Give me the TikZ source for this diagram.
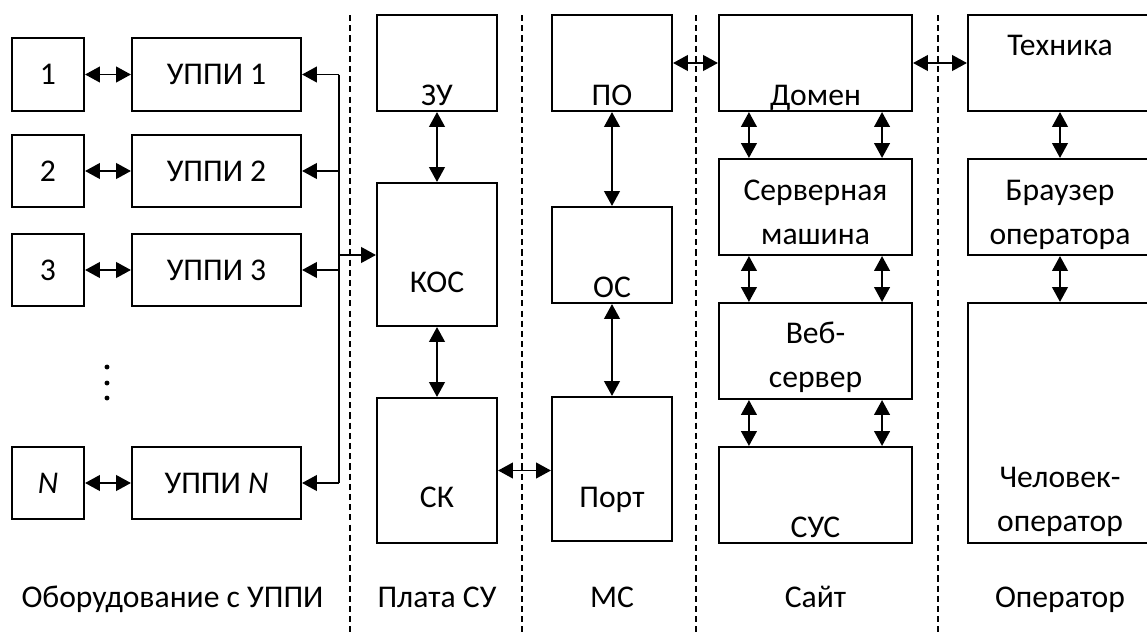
\documentclass[tikz,border=0pt]{standalone}
\usepackage{fontspec}
\setmainfont{Carlito}
\usetikzlibrary{arrows.meta,calc}

\tikzset{
  blk/.style={draw, line width=1.2pt, inner sep=0pt},
  sz/.style 2 args={minimum width=#1*0.02cm, minimum height=#2*0.02cm},
  lbl/.style={anchor=base, inner sep=0pt, align=center},
  lnk/.style={line width=1pt, <->},
  sep/.style={line width=0.9pt, dash pattern=on 3.5pt off 2.3pt},
}

\begin{document}
\begin{tikzpicture}[x=0.02cm, y=-0.02cm, >={Triangle[length=8.5pt,width=9pt]},
  font=\fontsize{18}{25}\selectfont]
  \useasboundingbox (0,0) rectangle (1147,632);
  % equipment with UPPI
  \node[blk, sz={72}{73}] (e1) at (48,74.5) {1};
  \node[blk, sz={169}{73}] (u1) at (216.5,74.5) {УППИ 1};
  \node[blk, sz={72}{72}] (e2) at (48,171) {2};
  \node[blk, sz={169}{72}] (u2) at (216.5,171) {УППИ 2};
  \node[blk, sz={72}{72}] (e3) at (48,270) {3};
  \node[blk, sz={169}{72}] (u3) at (216.5,270) {УППИ 3};
  \node[blk, sz={72}{72}] (eN) at (48,483) {\itshape N};
  \node[blk, sz={169}{72}] (uN) at (216.5,483) {УППИ \textit{N}};
  \foreach \y in {367,383,398} \fill (107,\y) circle (1.4pt);
  \foreach \i in {1,2,3,N} \draw[lnk] (e\i) -- (u\i);
  % bus
  \coordinate (b1) at (339,74.5);
  \coordinate (bN) at (339,483);
  \coordinate (bk) at (339,255);
  \draw[line width=1pt] (b1) -- (bN);
  \foreach \i in {1,2,3,N} \draw[line width=1pt, ->] (b1 |- u\i) -- (u\i.east);
  % control board
  \node[blk, sz={120}{96}] (zu) at (437,63) {};
  \node[lbl] (zut) at (437,105) {ЗУ};
  \node[blk, sz={120}{143}] (kos) at (437,254.5) {};
  \node[lbl] (kost) at (437,292) {КОС};
  \node[blk, sz={120}{145}] (sk) at (437,470.5) {};
  \node[lbl] (skt) at (437,507) {СК};
  \draw[line width=1pt, ->] (bk) -- (bk -| kos.west);
  \draw[lnk] (zu) -- (kos);
  \draw[lnk] (kos) -- (sk);
  % MS
  \node[blk, sz={120}{96}] (po) at (612,63) {};
  \node[lbl] (pot) at (612,105) {ПО};
  \node[blk, sz={120}{96}] (os) at (612,255) {};
  \node[lbl] (ost) at (612,297) {ОС};
  \node[blk, sz={120}{144}] (port) at (612,469) {};
  \node[lbl] (portt) at (612,507) {Порт};
  \draw[lnk] (po) -- (os);
  \draw[lnk] (os) -- (port);
  \draw[lnk] (sk.east) -- (sk.east -| port.west);
  % site
  \node[blk, sz={193}{96}] (dom) at (815.5,63) {};
  \node[lbl] (domt) at (815.5,105) {Домен};
  \node[blk, sz={193}{96}] (srv) at (815.5,207) {};
  \node[lbl] (srvt) at (815.5,244) {Серверная\\машина};
  \node[blk, sz={193}{96}] (web) at (815.5,351) {};
  \node[lbl] (webt) at (815.5,387) {Веб-\\сервер};
  \node[blk, sz={193}{96}] (sus) at (815.5,495) {};
  \node[lbl] (sust) at (815.5,537) {СУС};
  \draw[lnk] (po) -- (dom);
  \foreach \a/\b in {dom/srv,srv/web,web/sus} {
    \draw[lnk] ($(\a.south west)+(31,0)$) -- ($(\b.north west)+(31,0)$);
    \draw[lnk] ($(\a.south east)+(-31,0)$) -- ($(\b.north east)+(-31,0)$);
  }
  % operator
  \node[blk, sz={184}{96}] (tech) at (1060,63) {};
  \node[lbl] (techt) at (1060,55) {Техника};
  \node[blk, sz={184}{96}] (brw) at (1060,207) {};
  \node[lbl] (brwt) at (1060,244) {Браузер\\оператора};
  \node[blk, sz={184}{240}] (hum) at (1060,423) {};
  \node[lbl] (humt) at (1060,531) {Человек-\\оператор};
  \draw[lnk] (dom) -- (tech);
  \draw[lnk] (tech) -- (brw);
  \draw[lnk] (brw) -- (hum);
  % separators and captions
  \foreach \x in {350,522,696,938} \draw[sep] (\x,15) -- (\x,632);
  \node[lbl] (c1) at (172.5,607) {Оборудование с УППИ};
  \node[lbl] (c2) at (437,607) {Плата СУ};
  \node[lbl] (c3) at (612,607) {МС};
  \node[lbl] (c4) at (815.5,607) {Сайт};
  \node[lbl] (c5) at (1060,607) {Оператор};
\end{tikzpicture}
\end{document}
